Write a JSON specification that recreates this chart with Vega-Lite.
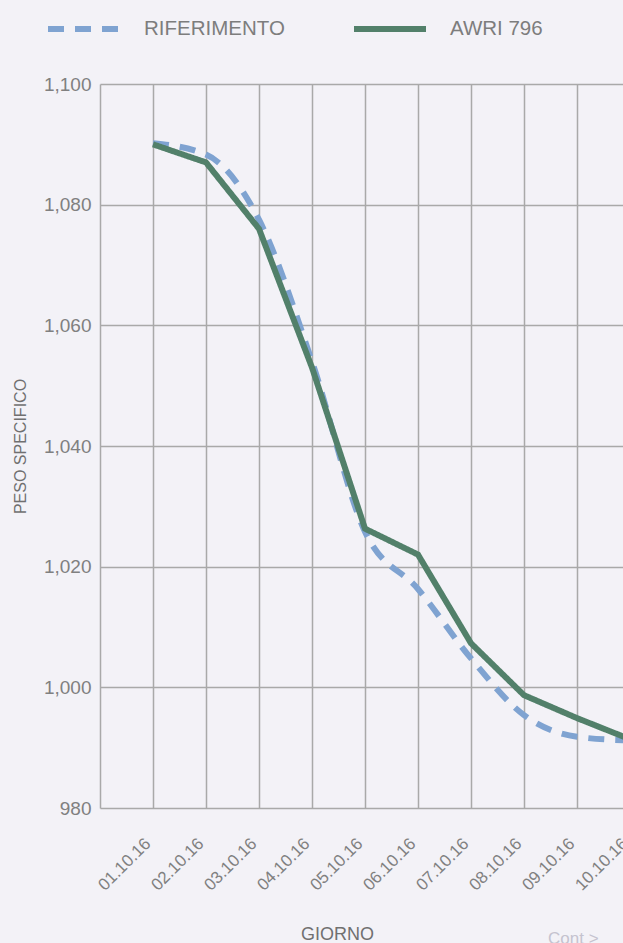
{
  "$schema": "https://vega.github.io/schema/vega-lite/v6.json",
  "width": 523,
  "height": 724,
  "autosize": {"type": "none"},
  "padding": {"left": 100, "top": 84, "right": 0, "bottom": 135},
  "background": "#f3f2f7",
  "config": {
    "view": {"stroke": null},
    "font": "Liberation Sans",
    "legend": {
      "orient": "none",
      "legendX": -55,
      "legendY": -94,
      "direction": "horizontal",
      "title": null,
      "symbolType": "stroke",
      "symbolSize": 5184,
      "symbolStrokeWidth": 6,
      "labelFontSize": 20.5,
      "labelColor": "#7d7d7d",
      "labelOffset": 21,
      "columnPadding": 57,
      "labelLimit": 400
    }
  },
  "title": {
    "text": "Cont  >",
    "orient": "top",
    "anchor": "start",
    "frame": "group",
    "dx": 448,
    "dy": 962,
    "fontSize": 17,
    "fontWeight": "normal",
    "color": "#c5c3cf"
  },
  "data": {
    "values": [
      {"giorno": "01.10.16", "serie": "RIFERIMENTO", "peso": 1090.2},
      {"giorno": "02.10.16", "serie": "RIFERIMENTO", "peso": 1088.3},
      {"giorno": "03.10.16", "serie": "RIFERIMENTO", "peso": 1077.5},
      {"giorno": "04.10.16", "serie": "RIFERIMENTO", "peso": 1054},
      {"giorno": "05.10.16", "serie": "RIFERIMENTO", "peso": 1025.8},
      {"giorno": "06.10.16", "serie": "RIFERIMENTO", "peso": 1016.3},
      {"giorno": "07.10.16", "serie": "RIFERIMENTO", "peso": 1004.8},
      {"giorno": "08.10.16", "serie": "RIFERIMENTO", "peso": 995.4},
      {"giorno": "09.10.16", "serie": "RIFERIMENTO", "peso": 991.8},
      {"giorno": "10.10.16", "serie": "RIFERIMENTO", "peso": 991.2},
      {"giorno": "01.10.16", "serie": "AWRI 796", "peso": 1090},
      {"giorno": "02.10.16", "serie": "AWRI 796", "peso": 1087},
      {"giorno": "03.10.16", "serie": "AWRI 796", "peso": 1076},
      {"giorno": "04.10.16", "serie": "AWRI 796", "peso": 1053},
      {"giorno": "05.10.16", "serie": "AWRI 796", "peso": 1026.3},
      {"giorno": "06.10.16", "serie": "AWRI 796", "peso": 1022},
      {"giorno": "07.10.16", "serie": "AWRI 796", "peso": 1007.3},
      {"giorno": "08.10.16", "serie": "AWRI 796", "peso": 998.7},
      {"giorno": "09.10.16", "serie": "AWRI 796", "peso": 994.9},
      {"giorno": "10.10.16", "serie": "AWRI 796", "peso": 991.4}
    ]
  },
  "encoding": {
    "x": {
      "field": "giorno",
      "type": "ordinal",
      "scale": {"type": "point", "range": [0, 583], "padding": 1},
      "axis": {
        "title": "GIORNO",
        "grid": true,
        "gridColor": "#a9a9a9",
        "gridWidth": 1.5,
        "domain": false,
        "ticks": false,
        "labelAngle": -45,
        "labelFontSize": 17,
        "labelColor": "#808080",
        "labelPadding": 27,
        "labelOffset": -11,
        "titleFontSize": 18,
        "titleFontWeight": "normal",
        "titleColor": "#707070",
        "titleX": 237,
        "titleY": 131,
        "titleAlign": "center",
        "titleBaseline": "alphabetic"
      }
    },
    "y": {
      "field": "peso",
      "type": "quantitative",
      "scale": {"domain": [980, 1100], "nice": false, "zero": false},
      "axis": {
        "title": "PESO SPECIFICO",
        "values": [980, 1000, 1020, 1040, 1060, 1080, 1100],
        "format": ",.0f",
        "grid": true,
        "gridColor": "#a9a9a9",
        "gridWidth": 1.5,
        "domain": true,
        "domainColor": "#a9a9a9",
        "domainWidth": 1.5,
        "ticks": false,
        "labelFontSize": 19,
        "labelColor": "#808080",
        "labelPadding": 9,
        "titleFontSize": 16,
        "titleFontWeight": "normal",
        "titleColor": "#707070",
        "titleX": -80,
        "titleY": 362,
        "titleAngle": -90,
        "titleAlign": "center",
        "titleBaseline": "middle"
      }
    },
    "color": {
      "field": "serie",
      "type": "nominal",
      "scale": {"domain": ["RIFERIMENTO", "AWRI 796"], "range": ["#7fa3d1", "#52806a"]}
    },
    "strokeDash": {
      "field": "serie",
      "type": "nominal",
      "scale": {"domain": ["RIFERIMENTO", "AWRI 796"], "range": [[16, 11], [1, 0]]}
    }
  },
  "layer": [
    {
      "transform": [{"filter": "datum.serie === 'RIFERIMENTO'"}],
      "mark": {"type": "line", "strokeWidth": 6, "interpolate": "monotone", "clip": true}
    },
    {
      "transform": [{"filter": "datum.serie === 'AWRI 796'"}],
      "mark": {"type": "line", "strokeWidth": 6, "clip": true}
    }
  ]
}
